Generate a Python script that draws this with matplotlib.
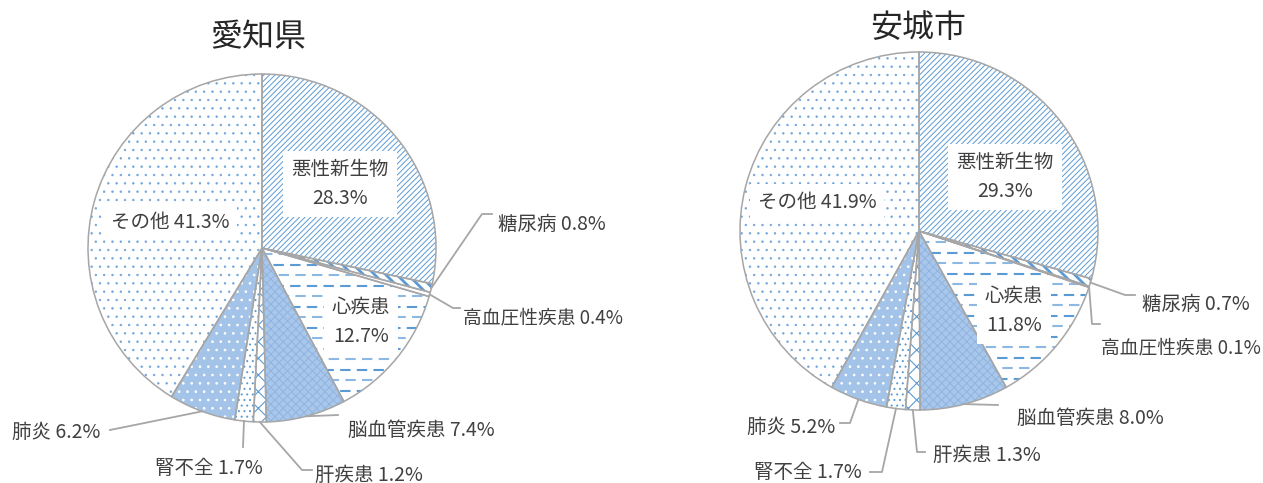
import matplotlib.pyplot as plt
from matplotlib.patches import Wedge
import numpy as np

plt.rcParams['font.family'] = ['Noto Sans CJK JP', 'DejaVu Sans']
plt.rcParams['hatch.linewidth'] = 0.7

# 死因別死亡割合 (%)
causes = ['悪性新生物', '糖尿病', '高血圧性疾患', '心疾患', '脳血管疾患',
          '肝疾患', '腎不全', '肺炎', 'その他']
aichi = [28.3, 0.8, 0.4, 12.7, 7.4, 1.2, 1.7, 6.2, 41.3]
anjo = [29.3, 0.7, 0.1, 11.8, 8.0, 1.3, 1.7, 5.2, 41.9]
titles = ['愛知県', '安城市']

W, H = 1263, 483
BLUE = '#5b9bd5'
EDGE = '#a6a6a6'
TEXT = '#404040'

# face colour, hatch, hatch colour, hatch width for each cause (None -> dashed rows)
styles = [
    ('white', '//////', BLUE, 0.7),
    ('white', '\\\\\\', BLUE, 2.0),
    ('white', '', BLUE, 0.7),
    ('white', None, BLUE, 0.7),
    ('#a9c7ea', 'xxxx', '#8fb4df', 0.7),
    ('white', 'xx', BLUE, 0.8),
    ('white', '...', BLUE, 0.7),
    ('#a3c3e8', '..', 'white', 0.7),
    ('white', '..', '#6fa6dc', 0.5),
]

# label placement in pixel coords (y measured from the top)
aichi_labels = {
    0: dict(xy=(340, 184), inside=True),
    1: dict(path=[(482, 214), (492, 214)], xy=(498, 225), ha='left'),
    2: dict(path=[(453, 308), (460, 308)], xy=(463, 318), ha='left'),
    3: dict(xy=(361, 322), inside=True),
    4: dict(path=[(338, 415)], xy=(348, 430), ha='left'),
    5: dict(path=[(302, 470), (312, 470)], xy=(315, 475), ha='left'),
    6: dict(path=[(243, 447)], xy=(209, 468), ha='center'),
    7: dict(path=[(110, 430)], xy=(100, 432), ha='right'),
    8: dict(xy=(170, 222), inside=True, oneline=True),
}
anjo_labels = {
    0: dict(xy=(1005, 177), inside=True),
    1: dict(path=[(1125, 295), (1135, 295)], xy=(1142, 305), ha='left'),
    2: dict(path=[(1092, 324), (1100, 324)], xy=(1261, 348), ha='right'),
    3: dict(xy=(1014, 311), inside=True),
    4: dict(path=[(998, 405)], xy=(1017, 418), ha='left'),
    5: dict(path=[(917, 452), (925, 452)], xy=(933, 455), ha='left'),
    6: dict(path=[(882, 472), (870, 472)], xy=(862, 472), ha='right'),
    7: dict(path=[(850, 423), (840, 423)], xy=(835, 427), ha='right'),
    8: dict(xy=(817, 202), inside=True, oneline=True),
}

fig = plt.figure(figsize=(W / 100, H / 100), dpi=100)
ax = fig.add_axes([0, 0, 1, 1])


def draw_pie(values, title, center, radius, labels, title_xy):
    cx, cy = center[0], H - center[1]
    wedges, _ = ax.pie(values, center=(cx, cy), radius=radius, startangle=90,
                       counterclock=False, frame=True,
                       colors=[s[0] for s in styles],
                       wedgeprops=dict(edgecolor='none', zorder=1))
    for i, w in enumerate(wedges):
        face, hatch, hcol, hlw = styles[i]
        if hatch:
            hp = Wedge((cx, cy), radius, w.theta1, w.theta2,
                       facecolor='none', edgecolor=hcol, lw=0,
                       hatch=hatch, zorder=2)
            if hasattr(hp, 'set_hatch_linewidth'):
                hp.set_hatch_linewidth(hlw)
            ax.add_patch(hp)
        elif hatch is None:
            # dashed horizontal rows clipped to the slice
            for k, y in enumerate(np.arange(cy - radius, cy + radius, 10.5)):
                ln, = ax.plot([cx, cx + radius], [y, y],
                              color=BLUE if k % 2 else '#8db8e3', lw=1.5,
                              ls=(2.5 * (k % 2), (5, 3)), zorder=2)
                ln.set_clip_path(w)
        ax.add_patch(Wedge((cx, cy), radius, w.theta1, w.theta2,
                           facecolor='none', edgecolor=EDGE, lw=1.1, zorder=3))

        lab = labels[i]
        pct = f'{values[i]:.1f}%'
        tx, ty = lab['xy'][0], H - lab['xy'][1]
        if lab.get('inside'):
            s = f'{causes[i]} {pct}' if lab.get('oneline') else f'{causes[i]}\n{pct}'
            ax.text(tx, ty, s, ha='center', va='center', fontsize=14,
                    color=TEXT, linespacing=1.55, zorder=5,
                    bbox=dict(boxstyle='square,pad=0.4', fc='white', ec='none'))
        else:
            mid = np.deg2rad((w.theta1 + w.theta2) / 2)
            pts = [(cx + radius * np.cos(mid), cy + radius * np.sin(mid))]
            pts += [(px, H - py) for px, py in lab['path']]
            xs, ys = zip(*pts)
            ax.plot(xs, ys, color=EDGE, lw=1.3, zorder=4)
            ax.text(tx, ty, f'{causes[i]} {pct}', ha=lab['ha'], va='center',
                    fontsize=13.5 if i == 2 else 14, color=TEXT, zorder=5)

    ax.text(title_xy[0], H - title_xy[1], title, ha='center', va='center',
            fontsize=23, color='#262626')


draw_pie(aichi, titles[0], (262, 248), 174, aichi_labels, (258, 37))
draw_pie(anjo, titles[1], (919, 231), 179, anjo_labels, (918, 28))

ax.set_xlim(0, W)
ax.set_ylim(0, H)
ax.set_aspect('equal')
ax.axis('off')

fig.savefig('out.png', dpi=100)
